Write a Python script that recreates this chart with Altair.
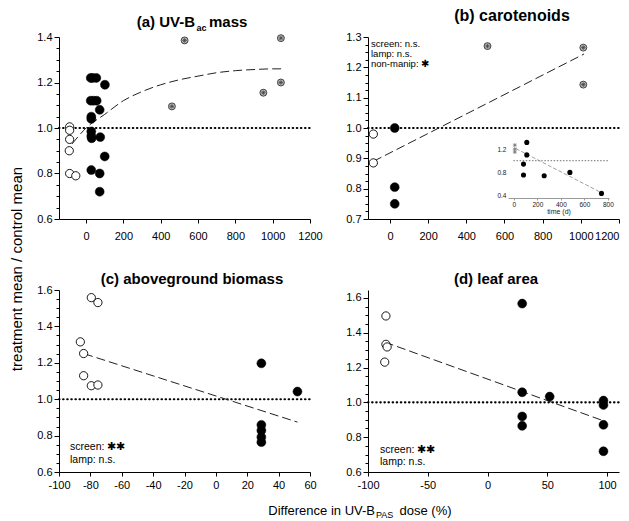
import altair as alt
import pandas as pd

FONT = "Liberation Sans"

# ---------------- data ----------------
# (a) UV-Bac mass
a_open_x = [-88, -88, -88, -90, -88, -55]
a_open_y = [1.005, 0.99, 0.95, 0.90, 0.80, 0.79]
a_fill_x = [25, 35, 55, 101, 25, 40, 57, 73, 28, 28, 28, 28, 76, 30, 100, 28, 73, 73]
a_fill_y = [1.22, 1.22, 1.22, 1.19, 1.12, 1.12, 1.12, 1.08, 1.05, 1.04, 0.985, 0.965,
            0.96, 0.955, 0.875, 0.815, 0.80, 0.72]
a_hatch_x = [528, 1044, 460, 950, 1044]
a_hatch_y = [1.385, 1.395, 1.095, 1.155, 1.20]
a_fit_x = [-75, 0, 100, 200, 300, 400, 500, 600, 700, 800, 900, 1000, 1050]
a_fit_y = [0.93, 1.0, 1.06, 1.12, 1.16, 1.19, 1.212, 1.228, 1.243, 1.252, 1.257, 1.26, 1.26]

# (b) carotenoids
b_open_x = [-87, -87]
b_open_y = [0.98, 0.885]
b_fill_x = [25, 25, 25]
b_fill_y = [1.0, 0.805, 0.75]
b_hatch_x = [511, 1013, 1013]
b_hatch_y = [1.27, 1.265, 1.143]
b_fit_x = [-87, 1017]
b_fit_y = [0.89, 1.244]
# inset of (b): time (d)
in_fill_x = [110, 110, 82, 82, 258, 477, 746]
in_fill_y = [1.317, 1.10, 0.94, 0.75, 0.736, 0.795, 0.43]
in_hatch_x = [8, 8, 8]
in_hatch_y = [1.27, 1.20, 1.15]
in_fit_x = [17, 740]
in_fit_y = [1.21, 0.447]

# (c) aboveground biomass
c_open_x = [-79.4, -75.2, -86.4, -84.3, -84.3, -79.4, -75.2]
c_open_y = [1.558, 1.531, 1.315, 1.251, 1.129, 1.074, 1.078]
c_fill_x = [29, 52, 29, 29, 29, 29]
c_fill_y = [1.197, 1.042, 0.859, 0.828, 0.792, 0.764]
c_fit_x = [-84, 52]
c_fit_y = [1.25, 0.874]

# (d) leaf area
d_open_x = [-85, -85, -84, -86]
d_open_y = [1.496, 1.333, 1.318, 1.231]
d_fill_x = [29, 29, 29, 29, 52, 97, 97, 97, 97]
d_fill_y = [1.567, 1.058, 0.919, 0.865, 1.033, 1.01, 0.985, 0.871, 0.719]
d_fit_x = [-86, 97]
d_fit_y = [1.346, 0.894]

# ticks
a_xticks = [0, 200, 400, 600, 800, 1000, 1200]
a_yticks = [0.6, 0.65, 0.7, 0.75, 0.8, 0.85, 0.9, 0.95, 1.0, 1.05, 1.1, 1.15, 1.2,
            1.25, 1.3, 1.35, 1.4]
b_yticks = [0.7, 0.725, 0.75, 0.775, 0.8, 0.825, 0.85, 0.875, 0.9, 0.925, 0.95, 0.975,
            1.0, 1.025, 1.05, 1.075, 1.1, 1.125, 1.15, 1.175, 1.2, 1.225, 1.25, 1.275, 1.3]
c_xticks = [-100, -80, -60, -40, -20, 0, 20, 40, 60]
cd_yticks = [0.6, 0.65, 0.7, 0.75, 0.8, 0.85, 0.9, 0.95, 1.0, 1.05, 1.1, 1.15, 1.2,
             1.25, 1.3, 1.35, 1.4, 1.45, 1.5, 1.55, 1.6]
d_xticks = [-100, -50, 0, 50, 100]
in_xticks = [0, 200, 400, 600, 800]
in_yticks = [0.4, 0.8, 1.2]

HATCH = "M-1,0L1,0M0,-1L0,1M-0.7,-0.7L0.7,0.7M-0.7,0.7L0.7,-0.7"


def df(xs, ys):
    return pd.DataFrame({"x": xs, "y": ys})


def xaxis(vals, top, flush=False):
    return alt.Axis(values=vals, labelExpr="'' + datum.value", tickSize=4,
                    labelPadding=7 if top else 3, title=None, grid=False,
                    labelFontSize=11, labelFont=FONT, labelColor="black",
                    domainColor="black", tickColor="black", labelOverlap=False,
                    labelFlush=flush)


def yaxis(vals, step):
    test = f"abs(datum.value/{step} - round(datum.value/{step})) < 0.001"
    return alt.Axis(values=vals,
                    labelExpr=f"{test} ? format(datum.value, '.1f') : ''",
                    tickSize={"condition": {"test": test, "value": 5}, "value": 3},
                    labelPadding=2, title=None, grid=False, labelFontSize=11,
                    labelFont=FONT, labelColor="black", domainColor="black",
                    tickColor="black", labelOverlap=False, labelFlush=False)


def txt(t, x, y, size=10.5, weight="normal", align="left", baseline="middle", angle=0):
    return alt.Chart(pd.DataFrame({"t": [t]})).mark_text(
        align=align, baseline=baseline, fontSize=size, fontWeight=weight, font=FONT,
        angle=angle, color="black").encode(x=alt.value(x), y=alt.value(y), text="t:N")


def panel(xdom, ydom, xticks, yticks, ystep, w, h, top, opn, fil, hat, fit,
          texts, curve=False, flush=False):
    X = alt.X("x:Q", scale=alt.Scale(domain=xdom, nice=False, zero=False),
              axis=xaxis(xticks, top, flush))
    Y = alt.Y("y:Q", scale=alt.Scale(domain=ydom, nice=False, zero=False),
              axis=yaxis(yticks, ystep))
    layers = []
    ref = alt.Chart(pd.DataFrame({"x": [xdom[0]], "x2": [xdom[1]], "y": [1.0]})).mark_rule(
        strokeDash=[0.5, 3.6], strokeCap="round", strokeWidth=2.1, color="black"
    ).encode(x=X, x2="x2:Q", y=Y)
    layers.append(ref)
    line = alt.Chart(fit).mark_line(strokeDash=[9, 4], strokeWidth=1, color="#222",
                                    interpolate="monotone" if curve else "linear")
    layers.append(line.encode(x=X, y=Y))
    if opn is not None:
        layers.append(alt.Chart(opn).mark_point(shape="circle", filled=True, fill="white",
                                                stroke="black", strokeWidth=0.9, size=68,
                                                opacity=1).encode(x=X, y=Y))
    if fil is not None:
        layers.append(alt.Chart(fil).mark_point(shape="circle", filled=True, fill="black",
                                                stroke="black", strokeWidth=0.5, size=80,
                                                opacity=1).encode(x=X, y=Y))
    if hat is not None:
        layers.append(alt.Chart(hat).mark_point(shape="circle", filled=True, fill="#bdbdbd",
                                                stroke="#333", strokeWidth=0.9, size=48,
                                                opacity=1).encode(x=X, y=Y))
        layers.append(alt.Chart(hat).mark_point(shape=HATCH, filled=False, stroke="#444",
                                                strokeWidth=0.8, size=22,
                                                opacity=1).encode(x=X, y=Y))
    for t in texts:
        layers.append(txt(*t))
    return alt.layer(*layers).properties(width=w, height=h)


W, H = 251, 182
STAR = "\u2731"

pa = panel([-145, 1200], [0.6, 1.4], a_xticks, a_yticks, 0.2, W, H, True,
           df(a_open_x, a_open_y), df(a_fill_x, a_fill_y), df(a_hatch_x, a_hatch_y),
           df(a_fit_x, a_fit_y),
           [("(a) UV-B", 136, -10, 15, "bold", "right", "alphabetic"),
            ("ac", 137.5, -6.5, 9, "bold", "left", "alphabetic"),
            ("mass", 150, -10, 15, "bold", "left", "alphabetic"),
            ("treatment mean / control mean", -42, 232, 15, "normal", "center", "middle", 270)],
           curve=True)

pb_main = panel([-115, 1200], [0.7, 1.3], a_xticks, b_yticks, 0.1, W, H, True,
                df(b_open_x, b_open_y), df(b_fill_x, b_fill_y), df(b_hatch_x, b_hatch_y),
                df(b_fit_x, b_fit_y),
                [("(b) carotenoids", 144, -16, 16, "bold", "center", "alphabetic"),
                 ("screen: n.s.", 3, 7, 9.5), ("lamp: n.s.", 3, 17, 9.5),
                 ("non-manip: " + STAR, 3, 27, 9.5)], flush=True)

IX = alt.X("x:Q", scale=alt.Scale(domain=[-50, 810], range=[140, 241], nice=False, zero=False),
           axis=alt.Axis(values=in_xticks, orient="bottom", offset=-21, tickSize=2,
                         labelFontSize=6.5, labelFont=FONT, labelColor="#222",
                         labelPadding=1, domainColor="#999", tickColor="#999",
                         grid=False, title="time (d)", titleFontSize=7,
                         titleFontWeight="normal", titleFont=FONT, titlePadding=0,
                         titleColor="#222", labelFlush=False))
IY = alt.Y("y:Q", scale=alt.Scale(domain=[0.35, 1.35], range=[161, 103.5], nice=False, zero=False),
           axis=alt.Axis(values=in_yticks, orient="left", offset=-140, domain=False,
                         ticks=False, labelFontSize=6.5, labelFont=FONT,
                         labelColor="#222", labelPadding=2, grid=False, title=None,
                         labelExpr="format(datum.value, '.1f')", labelFlush=False))
inset = alt.layer(
    alt.Chart(pd.DataFrame({"x": [0], "x2": [800], "y": [1.0]})).mark_rule(
        strokeDash=[0.5, 2.6], strokeCap="round", strokeWidth=1.2, color="#888"
    ).encode(x=IX, x2="x2:Q", y=IY),
    alt.Chart(df(in_fit_x, in_fit_y)).mark_line(strokeDash=[4, 2], strokeWidth=0.8,
                                                color="#888").encode(x=IX, y=IY),
    alt.Chart(df(in_hatch_x, in_hatch_y)).mark_point(shape=HATCH, filled=False, stroke="#777",
                                                     strokeWidth=0.8, size=16,
                                                     opacity=1).encode(x=IX, y=IY),
    alt.Chart(df(in_fill_x, in_fill_y)).mark_point(shape="circle", filled=True, fill="black",
                                                   size=26, opacity=1).encode(x=IX, y=IY),
)
pb = alt.layer(pb_main, inset).resolve_scale(x="independent", y="independent") \
    .resolve_axis(x="independent", y="independent")

pc = panel([-100, 60], [0.6, 1.6], c_xticks, cd_yticks, 0.2, W, H, False,
           df(c_open_x, c_open_y), df(c_fill_x, c_fill_y), None, df(c_fit_x, c_fit_y),
           [("(c) aboveground biomass", 133, -6.5, 15, "bold", "center", "alphabetic"),
            ("screen: " + STAR + STAR, 11, 157), ("lamp: n.s.", 11, 170),
            ("Difference in UV-B", 316, 224.5, 13, "normal", "right", "alphabetic"),
            ("PAS", 317, 227.5, 9, "normal", "left", "alphabetic"),
            ("dose (%)", 340.5, 224.5, 13, "normal", "left", "alphabetic")])

pd_ = panel([-100, 110], [0.6, 1.645], d_xticks, cd_yticks, 0.2, W, H, False,
            df(d_open_x, d_open_y), df(d_fill_x, d_fill_y), None, df(d_fit_x, d_fit_y),
            [("(d) leaf area", 128, -6, 15, "bold", "center", "alphabetic"),
             ("screen: " + STAR + STAR, 12, 160), ("lamp: n.s.", 12, 172)])

chart = alt.concat(pa, pb, pc, pd_, columns=2, spacing={"row": 71, "column": 58},
                   bounds="flush").properties(
    padding={"left": 2, "top": 0, "right": 0, "bottom": 0}
).configure_view(stroke=None).configure_axis(domainWidth=1, tickWidth=1)

chart.save("out.html", embed_options={"renderer": "svg", "actions": False})
